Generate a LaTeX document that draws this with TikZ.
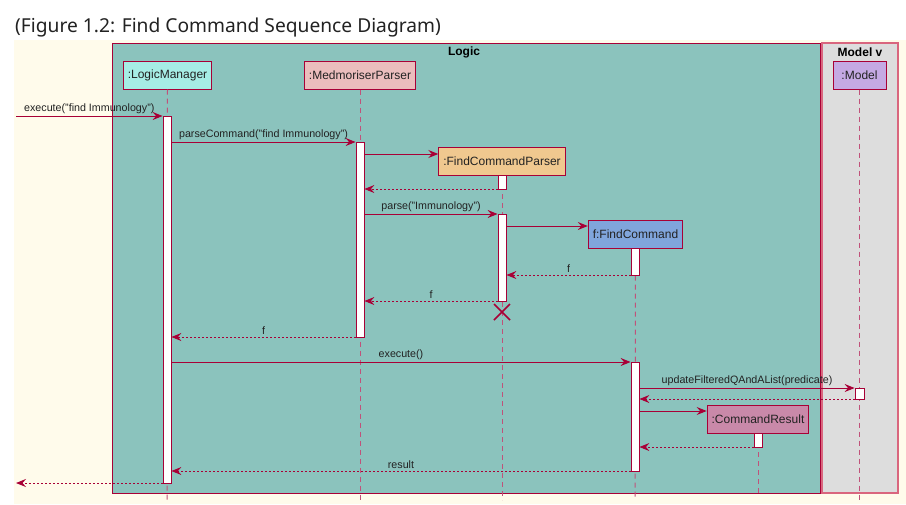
\documentclass[tikz,border=0pt]{standalone}
\usepackage{fontspec}
\setmainfont{Liberation Sans}
\newfontfamily\titlefont{Noto Sans}
\usetikzlibrary{arrows.meta,calc}
\definecolor{crim}{HTML}{A80036}
\definecolor{life}{HTML}{C0527A}
\definecolor{cream}{HTML}{FFFBEB}
\definecolor{logicbg}{HTML}{8BC3BD}
\definecolor{modelbg}{HTML}{DDDDDD}
\definecolor{modelbd}{HTML}{D9667E}
\definecolor{txt}{HTML}{222222}
\definecolor{lmfill}{HTML}{A6EDE5}
\definecolor{mpfill}{HTML}{EBBDBD}
\definecolor{mfill}{HTML}{C5A9E3}
\definecolor{fcpfill}{HTML}{F0C88F}
\definecolor{fcfill}{HTML}{80A5DC}
\definecolor{crfill}{HTML}{C989A9}
\tikzset{
  part/.style={draw=crim, line width=1pt, minimum height=28pt, inner xsep=4.5pt, inner ysep=0pt, text=txt, font=\fontsize{12}{14}\selectfont},
  act/.style={draw=crim, fill=white, line width=0.8pt, minimum width=8pt, inner sep=0pt},
  lifeline/.style={life, line width=1pt, dash pattern=on 5pt off 4pt},
  msg/.style={crim, line width=1pt, -{Stealth[length=10pt,width=8pt,inset=3.5pt]}},
  ret/.style={msg, dash pattern=on 2pt off 2pt},
  lbl/.style={text=txt, font=\fontsize{10.7}{13}\selectfont, inner sep=2pt},
  grouptitle/.style={text=black, font=\bfseries\fontsize{12}{14}\selectfont}
}
\begin{document}
\begin{tikzpicture}[x=1pt,y=-1pt]
\useasboundingbox (0,0) rectangle (906,504);
\fill[white] (0,0) rectangle (906,504);
\fill[cream] (14,40) rectangle (906,504);
\node[anchor=base west, inner sep=0pt, text=txt, font=\titlefont\fontsize{19.2}{22}\selectfont] (title) at (15,32) {(Figure 1.2: Find Command Sequence Diagram)};

% groups
\draw[crim, fill=logicbg, line width=1pt] (112,43) rectangle (820,493);
\node[grouptitle] (logiclbl) at (464,52) {Logic};
\draw[modelbd, fill=modelbg, line width=1.5pt] (822,43) rectangle (898,493);
\node[grouptitle] (modellbl) at (860,52) {Model v};

% participants
\node[part, fill=lmfill] (lm) at (167.5,75) {:LogicManager};
\node[part, fill=mpfill] (mp) at (360,75) {:MedmoriserParser};
\node[part, fill=mfill, minimum width=53pt] (m) at (859.5,75) {:Model};
\node[part, fill=fcpfill] (fcp) at (502,161.5) {:FindCommandParser};
\node[part, fill=fcfill] (fc) at (635.5,234) {f:FindCommand};
\node[part, fill=crfill] (cr) at (758,419.5) {:CommandResult};

% lifelines
\coordinate (lmend) at (167,500);
\coordinate (mpend) at (360,500);
\coordinate (mend) at (859.5,500);
\coordinate (fcpend) at (502,500);
\coordinate (fcend) at (635,500);
\coordinate (crend) at (758,493);
\draw[lifeline] (lm.south) -- (lmend);
\draw[lifeline] (mp.south) -- (mpend);
\draw[lifeline] (m.south) -- (mend);
\draw[lifeline] (fcp.south) -- (fcpend);
\draw[lifeline] (fc.south) -- (fcend);
\draw[lifeline] (cr.south) -- (crend);

% activations
\node[act, minimum height=367pt] (lmact) at (167,299.5) {};
\node[act, minimum height=195pt] (mpact) at (360,239.5) {};
\node[act, minimum height=14pt] (fcpact1) at (502,182) {};
\node[act, minimum height=87pt] (fcpact2) at (502,257.5) {};
\node[act, minimum height=27pt] (fcact1) at (635,261.5) {};
\node[act, minimum height=109pt] (fcact2) at (635,416.5) {};
\node[act, minimum height=11pt, minimum width=9pt] (mact) at (859.5,393.5) {};
\node[act, minimum height=14pt] (cract) at (758,440) {};

% messages
\coordinate (extin) at (16,116);
\coordinate (extout) at (16,483);
\draw[msg] (extin) -- node[lbl, above] {execute("find Immunology")} (lmact.west |- 0,116);
\draw[msg] (lmact.east |- 0,142) -- node[lbl, above] {parseCommand("find Immunology")} (mpact.west |- 0,142);
\draw[msg] (mpact.east |- 0,154) -- (fcp.west |- 0,154);
\draw[ret] (fcpact1.west |- 0,189) -- (mpact.east |- 0,189);
\draw[msg] (mpact.east |- 0,214) -- node[lbl, above] {parse("Immunology")} (fcpact2.west |- 0,214);
\draw[msg] (fcpact2.east |- 0,226) -- (fc.west |- 0,226);
\draw[ret] (fcact1.west |- 0,275) -- node[lbl, above] {f} (fcpact2.east |- 0,275);
\draw[ret] (fcpact2.west |- 0,301) -- node[lbl, above] {f} (mpact.east |- 0,301);
\draw[crim, line width=1.5pt] (494,304) -- (510,320) (494,320) -- (510,304);
\draw[ret] (mpact.west |- 0,337) -- node[lbl, above] {f} (lmact.east |- 0,337);
\draw[msg] (lmact.east |- 0,362) -- node[lbl, above] {execute()} (fcact2.west |- 0,362);
\draw[msg] (fcact2.east |- 0,388) -- node[lbl, above] {updateFilteredQAndAList(predicate)} (mact.west |- 0,388);
\draw[ret] (mact.west |- 0,399) -- (fcact2.east |- 0,399);
\draw[msg] (fcact2.east |- 0,411) -- (cr.west |- 0,411);
\draw[ret] (cract.west |- 0,447) -- (fcact2.east |- 0,447);
\draw[ret] (fcact2.west |- 0,471) -- node[lbl, above] {result} (lmact.east |- 0,471);
\draw[ret] (lmact.west |- 0,483) -- (extout);
\end{tikzpicture}
\end{document}
